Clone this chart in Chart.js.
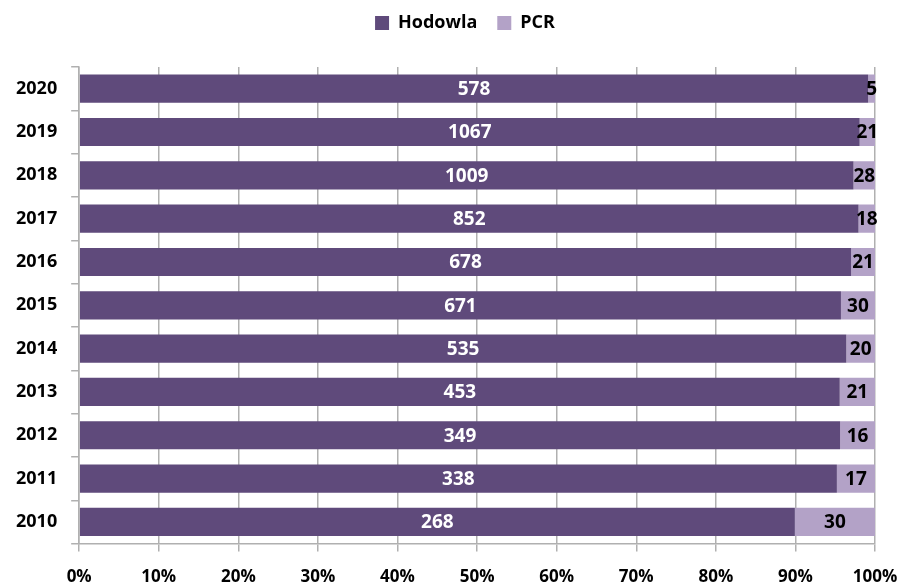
<!DOCTYPE html>
<html>
<head>
<meta charset="utf-8">
<script src="https://cdn.jsdelivr.net/npm/chart.js@4"></script>
<style>
  html, body { margin: 0; padding: 0; background: #fff; }
  #wrap { width: 904px; height: 584px; }
</style>
</head>
<body>
<div id="wrap"><canvas id="chart"></canvas></div>
<script>
// data
const years = ["2020", "2019", "2018", "2017", "2016", "2015", "2014", "2013", "2012", "2011", "2010"];
const hodowla = [578, 1067, 1009, 852, 678, 671, 535, 453, 349, 338, 268];
const pcr = [5, 21, 28, 18, 21, 30, 20, 21, 16, 17, 30];

const FONT = "'Open Sans', sans-serif";

// share of each row in percent (100% stacked bars)
const toPct = (a, b) => a.map((v, i) => (v / (v + b[i])) * 100);

// draws the raw counts in the middle of each bar segment
const valueLabels = {
  id: "valueLabels",
  afterDatasetsDraw(chart) {
    const ctx = chart.ctx;
    ctx.save();
    ctx.font = "bold 19px " + FONT;
    ctx.textAlign = "center";
    ctx.textBaseline = "middle";
    chart.data.datasets.forEach((ds, di) => {
      const meta = chart.getDatasetMeta(di);
      meta.data.forEach((bar, i) => {
        const x = (bar.x + bar.base) / 2;
        ctx.fillStyle = di === 0 ? "#ffffff" : "#000000";
        ctx.fillText(ds.raw[i], x, bar.y + 1);
      });
    });
    ctx.restore();
  }
};

// extra room between legend and plot, legend nudged right
const legendGap = {
  id: "legendGap",
  beforeInit(chart) {
    const fit = chart.legend.fit;
    chart.legend.fit = function () {
      fit.bind(chart.legend)();
      this.height += 25;
    };
  },
  afterLayout(chart) {
    chart.legend.left += 12;
    chart.legend.right += 12;
  }
};

const ctx = document.getElementById("chart").getContext("2d");

new Chart(ctx, {
  type: "bar",
  data: {
    labels: years,
    datasets: [
      {
        label: "Hodowla",
        data: toPct(hodowla, pcr),
        raw: hodowla,
        backgroundColor: "#5f4a7b",
        categoryPercentage: 0.65,
        barPercentage: 1.0
      },
      {
        label: "PCR",
        data: toPct(pcr, hodowla),
        raw: pcr,
        backgroundColor: "#b3a2c7",
        categoryPercentage: 0.65,
        barPercentage: 1.0
      }
    ]
  },
  options: {
    indexAxis: "y",
    responsive: true,
    maintainAspectRatio: false,
    animation: false,
    layout: { padding: { left: 2, right: 0, top: -6, bottom: 0 } },
    plugins: {
      legend: {
        position: "top",
        labels: {
          boxWidth: 14,
          boxHeight: 14,
          padding: 20,
          color: "#000",
          font: { family: FONT, size: 18, weight: "bold" }
        }
      },
      tooltip: { enabled: false }
    },
    scales: {
      x: {
        stacked: true,
        min: 0,
        max: 100,
        afterFit: (scale) => {
          scale.height -= 18;
          scale.paddingRight = 29;
        },
        ticks: {
          stepSize: 10,
          color: "#000",
          padding: 15,
          font: { family: FONT, size: 17, weight: "bold" },
          callback: (v) => v + "%"
        },
        grid: { color: "#b0b0b0", lineWidth: 1.5, tickLength: 8 },
        border: { color: "#b0b0b0", width: 1.5 }
      },
      y: {
        stacked: true,
        ticks: {
          color: "#000",
          padding: 14,
          font: { family: FONT, size: 18, weight: "bold" }
        },
        grid: { drawOnChartArea: false, color: "#b0b0b0", lineWidth: 1.5, tickLength: 8 },
        border: { color: "#b0b0b0", width: 1.5 }
      }
    }
  },
  plugins: [valueLabels, legendGap]
});
</script>
</body>
</html>
